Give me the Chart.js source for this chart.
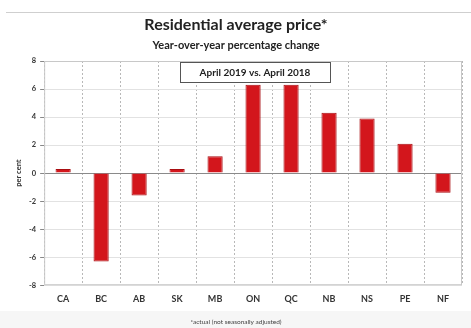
<!DOCTYPE html>
<html lang="en">
<head>
    <meta charset="UTF-8">
    <title>Residential average price</title>
    <script src="https://cdn.jsdelivr.net/npm/chart.js"></script>
    <style>
        html, body { margin: 0; padding: 0; background: #fff; }
        #wrap { width: 471px; height: 328px; position: relative; }
    </style>
    <script>
        // provinces and y/y % change, April 2019 vs April 2018
        const categories = ["CA", "BC", "AB", "SK", "MB", "ON", "QC", "NB", "NS", "PE", "NF"];
        const pctChange = [0.3, -6.3, -1.6, 0.3, 1.2, 6.3, 6.3, 4.3, 3.9, 2.1, -1.4];
        const yTicks = [-8, -6, -4, -2, 0, 2, 4, 6, 8];

        const fontFam = "Lato, 'Open Sans', sans-serif";

        // titles, annotation box, footnote and frame
        const decor = {
            id: "decor",
            beforeDraw(chart) {
                let ctx = chart.ctx;
                ctx.save();
                ctx.fillStyle = "#f6f6f6";
                ctx.fillRect(0, 311, 471, 17);
                ctx.strokeStyle = "#cfcfcf";
                ctx.lineWidth = 1;
                ctx.beginPath();
                ctx.moveTo(6, 12.5);
                ctx.lineTo(471, 12.5);
                ctx.stroke();
                ctx.restore();
            },
            afterDraw(chart) {
                let ctx = chart.ctx;
                let a = chart.chartArea;
                ctx.save();
                ctx.strokeStyle = "#c8c8c8";
                ctx.lineWidth = 1;
                ctx.strokeRect(a.left + 0.5, a.top + 0.5, a.right - a.left - 1, a.bottom - a.top - 1);

                ctx.fillStyle = "#222";
                ctx.textAlign = "center";
                ctx.textBaseline = "middle";
                ctx.font = "bold 16px " + fontFam;
                ctx.fillText("Residential average price*", 236, 25);
                ctx.font = "bold 11px " + fontFam;
                ctx.fillText("Year-over-year percentage change", 236, 45);
                ctx.font = "6.5px " + fontFam;
                ctx.fillStyle = "#444";
                ctx.fillText("*actual (not seasonally adjusted)", 236, 322);

                // annotation box
                ctx.fillStyle = "#fff";
                ctx.fillRect(180, 62, 150, 20);
                ctx.strokeStyle = "#555";
                ctx.strokeRect(180.5, 62.5, 150, 20);
                ctx.fillStyle = "#222";
                ctx.font = "bold 10px " + fontFam;
                ctx.fillText("April 2019 vs. April 2018", 255, 72.5);
                ctx.restore();
            }
        };

        window.onload = function() {
            let ctx = document.getElementById("priceChart").getContext("2d");
            new Chart(ctx, {
                type: "bar",
                data: {
                    labels: categories,
                    datasets: [{
                        label: "Residential average price",
                        data: pctChange,
                        backgroundColor: "#d3161c",
                        borderColor: "#a80e12",
                        borderWidth: 1,
                        barPercentage: 0.4,
                        categoryPercentage: 1
                    }]
                },
                options: {
                    responsive: false,
                    animation: false,
                    layout: { padding: { top: 61, right: 9, bottom: 16, left: 14 } },
                    plugins: {
                        legend: { display: false },
                        tooltip: { enabled: false }
                    },
                    scales: {
                        x: {
                            grid: {
                                offset: true,
                                color: "#b8b8b8",
                                drawTicks: false
                            },
                            border: { display: false, dash: [2, 2] },
                            ticks: {
                                color: "#333",
                                padding: 8,
                                font: { family: fontFam, size: 9, weight: "bold" }
                            }
                        },
                        y: {
                            min: -8,
                            max: 8,
                            afterBuildTicks(axis) {
                                axis.ticks = yTicks.map(v => ({ value: v }));
                            },
                            grid: {
                                color: c => c.tick && c.tick.value === 0 ? "#8a8a8a" : "#e2e2e2",
                                tickLength: 4,
                                tickColor: "#888"
                            },
                            border: { display: false },
                            title: {
                                display: true,
                                text: "per cent",
                                color: "#333",
                                padding: { top: 0, bottom: 2 },
                                font: { family: fontFam, size: 7.5, weight: "bold" }
                            },
                            ticks: {
                                color: "#333",
                                padding: 4,
                                font: { family: fontFam, size: 7.5, weight: "bold" }
                            }
                        }
                    }
                },
                plugins: [decor]
            });
        };
    </script>
</head>
<body>
    <div id="wrap">
        <canvas id="priceChart" width="471" height="328"></canvas>
    </div>
</body>
</html>
